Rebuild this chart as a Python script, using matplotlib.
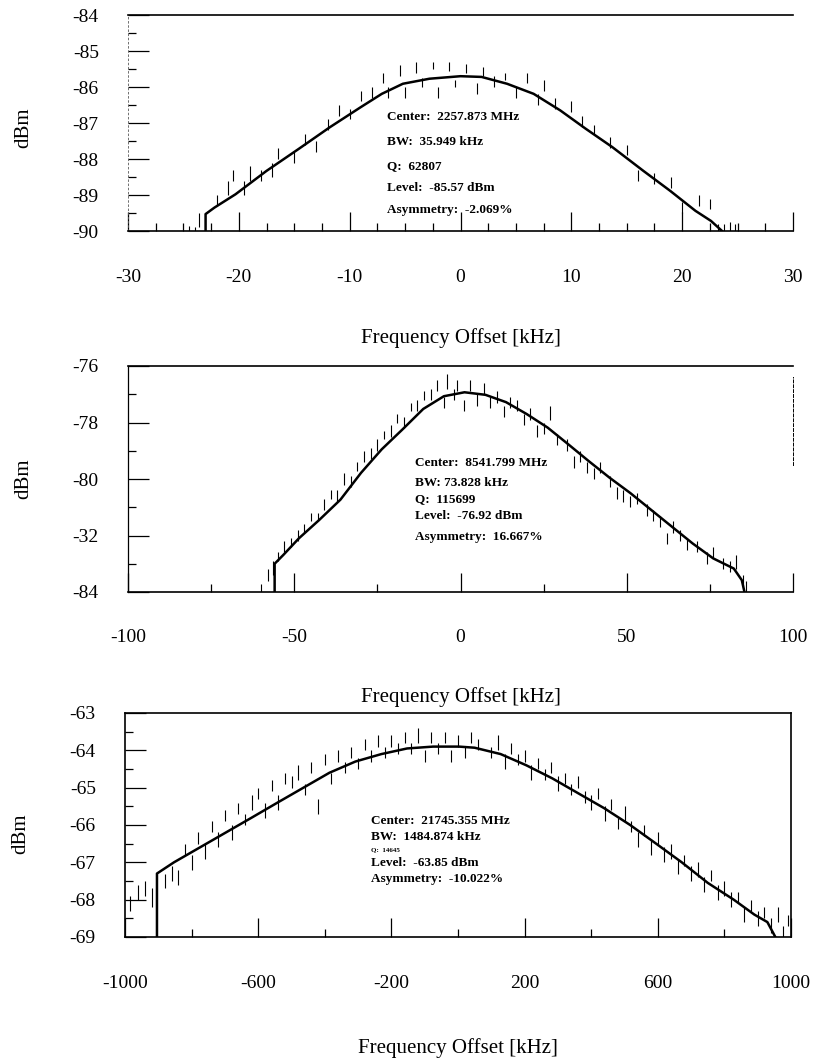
import numpy as np
import matplotlib
matplotlib.use("Agg")
import matplotlib.pyplot as plt

plt.rcParams['font.family'] = ['Liberation Serif', 'DejaVu Serif']

# ---- panel 1: 2257.873 MHz ----
fit1_x = [-23.0, -23.0, -22.2, -20.3, -17.5, -14.6, -11.8, -9.0, -7.1, -5.2, -2.8, 0.0,
          1.9, 4.2, 6.6, 9.0, 11.3, 13.7, 16.5, 18.9, 21.2, 22.6, 23.6]
fit1_y = [-90.0, -89.53, -89.35, -88.98, -88.33, -87.72, -87.12, -86.56, -86.19, -85.91,
          -85.77, -85.70, -85.72, -85.91, -86.19, -86.65, -87.16, -87.67, -88.33, -88.88,
          -89.44, -89.72, -90.0]
noise1_x = [-24.5, -24.0, -23.6, -22.0, -21.0, -20.5, -19.5, -19.0, -18.0, -17.0, -16.5,
            -15.0, -14.0, -13.0, -12.0, -11.0, -10.0, -9.0, -8.0, -7.0, -6.5, -5.5, -5.0,
            -4.0, -3.5, -2.5, -2.0, -1.0, -0.5, 0.5, 1.5, 2.0, 3.0, 4.0, 5.0, 6.0, 7.0, 7.5,
            8.5, 10.0, 11.0, 12.0, 13.5, 15.0, 16.0, 17.5, 19.0, 20.0, 21.5, 22.5, 23.2,
            23.8, 24.3, 24.8]
noise1_lo = [-90.0, -90.0, -89.9, -89.3, -89.0, -88.6, -89.0, -88.6, -88.6, -88.5, -88.0,
             -88.1, -87.6, -87.8, -87.2, -86.8, -86.9, -86.4, -86.3, -85.9, -86.3, -85.7,
             -86.3, -85.6, -86.0, -85.5, -86.3, -85.55, -86.0, -85.6, -86.2, -85.7, -86.0,
             -85.8, -86.3, -85.9, -86.5, -86.1, -86.6, -86.7, -87.1, -87.3, -87.7, -87.9,
             -88.6, -88.7, -88.8, -89.5, -89.3, -89.4, -90.0, -90.0, -90.0, -90.0]
noise1_hi = [-89.85, -89.9, -89.5, -89.0, -88.6, -88.3, -88.6, -88.2, -88.3, -88.1, -87.7,
             -87.8, -87.3, -87.5, -86.9, -86.5, -86.6, -86.1, -86.0, -85.6, -86.0, -85.4,
             -86.0, -85.3, -85.75, -85.3, -86.0, -85.3, -85.8, -85.35, -85.9, -85.45, -85.7,
             -85.6, -86.0, -85.6, -86.2, -85.8, -86.3, -86.4, -86.8, -87.05, -87.4, -87.6,
             -88.3, -88.4, -88.5, -89.2, -89.0, -89.1, -89.8, -89.8, -89.75, -89.8]
ticks1_x = [-30, -20, -10, 0, 10, 20, 30]
ticks1_y = [-84, -85, -86, -87, -88, -89, -90]
text1 = ["Center:  2257.873 MHz", "BW:  35.949 kHz", "Q:  62807", "Level:  -85.57 dBm",
         "Asymmetry:  -2.069%"]

# ---- panel 2: 8541.799 MHz ----
fit2_x = [-55.9, -55.9, -53.3, -48.6, -42.4, -36.1, -29.9, -23.7, -17.4, -11.2, -5.0, 1.2,
          7.5, 13.7, 19.9, 26.2, 32.4, 38.6, 44.9, 51.1, 57.3, 63.6, 69.8, 76.0, 82.2, 84.6,
          85.4]
fit2_y = [-84.0, -83.0, -82.69, -82.10, -81.44, -80.73, -79.78, -78.95, -78.24, -77.52,
          -77.07, -76.93, -77.02, -77.28, -77.70, -78.18, -78.77, -79.37, -79.96, -80.50,
          -81.09, -81.69, -82.28, -82.81, -83.17, -83.58, -84.0]
noise2_x = [-60, -58, -56.5, -55, -53, -51, -49, -47, -45, -43, -41, -39, -37, -35, -33, -31,
            -29, -27, -25, -23, -21, -19, -17, -15, -13, -11, -9, -7, -5, -4, -2, -1, 1, 3,
            5, 7, 9, 11, 13, 15, 17, 19, 21, 23, 25, 27, 29, 32, 34, 36, 38, 40, 42, 45, 47,
            49, 51, 53, 56, 58, 60, 62, 64, 66, 68, 71, 74, 76, 79, 81, 83, 85, 86]
noise2_lo = [-84.0, -83.6, -83.4, -82.9, -82.6, -82.4, -82.2, -81.9, -81.5, -81.5, -81.1,
             -80.7, -80.8, -80.2, -80.3, -79.7, -79.4, -79.3, -79.0, -78.6, -78.5, -78.0,
             -78.2, -77.6, -77.6, -77.2, -77.2, -76.9, -77.5, -76.8, -77.2, -76.9, -77.6,
             -76.9, -77.4, -77.0, -77.5, -77.3, -77.8, -77.5, -77.6, -78.1, -77.9, -78.5,
             -78.4, -77.9, -78.8, -79.0, -79.6, -79.4, -79.8, -80.0, -79.8, -80.3, -80.7,
             -80.8, -81.0, -80.9, -81.3, -81.5, -81.7, -82.3, -81.9, -82.2, -82.5, -82.6,
             -83.0, -82.8, -83.2, -83.3, -83.2, -83.8, -84.0]
noise2_hi = [-83.7, -83.2, -82.9, -82.6, -82.2, -82.1, -81.8, -81.6, -81.2, -81.2, -80.7,
             -80.4, -80.4, -79.8, -79.9, -79.4, -79.0, -78.9, -78.6, -78.3, -78.1, -77.7,
             -77.8, -77.3, -77.2, -76.9, -76.8, -76.5, -77.1, -76.3, -76.8, -76.5, -77.2,
             -76.5, -77.0, -76.6, -77.1, -76.9, -77.4, -77.1, -77.2, -77.7, -77.5, -78.1,
             -78.0, -77.4, -78.4, -78.6, -79.2, -79.0, -79.4, -79.6, -79.4, -79.9, -80.3,
             -80.4, -80.6, -80.5, -80.9, -81.1, -81.3, -81.9, -81.5, -81.8, -82.1, -82.2,
             -82.6, -82.4, -82.8, -82.9, -82.7, -83.4, -83.6]
ticks2_x = [-100, -50, 0, 50, 100]
ticks2_y = [-76, -78, -80, -82, -84]
ticklabels2_y = ["-76", "-78", "-80", "-32", "-84"]
text2 = ["Center:  8541.799 MHz", "BW: 73.828 kHz", "Q:  115699", "Level:  -76.92 dBm",
         "Asymmetry:  16.667%"]

# ---- panel 3: 21745.355 MHz ----
fit3_x = [-904, -904, -853, -775, -697, -619, -542, -464, -386, -308, -230, -153, -75, 3,
          50, 128, 205, 283, 361, 439, 517, 595, 672, 750, 828, 890, 929, 953]
fit3_y = [-69.0, -67.3, -67.0, -66.6, -66.2, -65.8, -65.4, -65.0, -64.6, -64.3, -64.1,
          -63.95, -63.9, -63.9, -63.93, -64.1, -64.4, -64.75, -65.15, -65.55, -66.0, -66.5,
          -67.0, -67.55, -68.0, -68.4, -68.6, -69.0]
noise3_x = [-985, -960, -940, -920, -880, -860, -840, -820, -800, -780, -760, -740, -720,
            -700, -680, -660, -640, -620, -600, -580, -560, -540, -520, -500, -480, -460,
            -440, -420, -400, -380, -360, -340, -320, -300, -280, -260, -240, -220, -200,
            -180, -160, -140, -120, -100, -80, -60, -40, -20, 0, 20, 40, 60, 100, 120, 140,
            160, 180, 200, 220, 240, 260, 280, 300, 320, 340, 360, 380, 400, 420, 440, 460,
            480, 500, 520, 540, 560, 580, 600, 620, 640, 660, 680, 700, 720, 740, 760, 780,
            800, 820, 840, 860, 880, 900, 920, 940, 960, 975, 990]
noise3_lo = [-68.3, -68.0, -67.9, -68.2, -67.7, -67.5, -67.6, -66.8, -67.2, -66.5, -66.9,
             -66.2, -66.6, -65.9, -66.4, -65.7, -66.0, -65.6, -65.3, -65.8, -65.1, -65.6,
             -64.9, -65.0, -64.8, -65.2, -64.6, -65.7, -64.4, -64.9, -64.3, -64.6, -64.2,
             -64.5, -64.0, -64.3, -63.9, -64.2, -63.9, -64.1, -63.8, -64.1, -63.8, -64.3,
             -63.8, -64.1, -63.8, -64.3, -63.9, -64.2, -63.8, -64.0, -64.2, -64.0, -64.5,
             -64.1, -64.4, -64.3, -64.8, -64.5, -64.8, -64.6, -65.1, -64.9, -65.2, -65.0,
             -65.4, -65.6, -65.3, -65.9, -65.6, -66.1, -65.9, -66.2, -66.6, -66.3, -66.8,
             -66.5, -67.0, -66.9, -67.3, -67.1, -67.5, -67.4, -67.8, -67.5, -68.0, -67.9,
             -68.2, -68.1, -68.6, -68.3, -68.7, -68.5, -68.9, -68.6, -69.0, -68.7]
noise3_hi = [-67.9, -67.6, -67.5, -67.7, -67.3, -67.1, -67.2, -66.5, -66.8, -66.2, -66.5,
             -65.9, -66.2, -65.6, -66.0, -65.4, -65.7, -65.2, -65.0, -65.4, -64.8, -65.2,
             -64.6, -64.7, -64.4, -64.9, -64.3, -65.3, -64.1, -64.6, -64.0, -64.3, -63.9,
             -64.2, -63.7, -64.0, -63.6, -63.9, -63.6, -63.8, -63.5, -63.8, -63.4, -64.0,
             -63.5, -63.8, -63.5, -64.0, -63.6, -63.9, -63.5, -63.7, -63.9, -63.6, -64.1,
             -63.8, -64.1, -64.0, -64.4, -64.2, -64.5, -64.3, -64.7, -64.6, -64.9, -64.7,
             -65.1, -65.2, -65.0, -65.5, -65.3, -65.8, -65.5, -65.9, -66.2, -66.0, -66.4,
             -66.2, -66.6, -66.5, -66.9, -66.8, -67.1, -67.0, -67.4, -67.2, -67.6, -67.5,
             -67.8, -67.8, -68.2, -68.0, -68.3, -68.2, -68.5, -68.2, -68.7, -68.4]
ticks3_x = [-1000, -600, -200, 200, 600, 1000]
ticks3_y = [-63, -64, -65, -66, -67, -68, -69]
text3 = ["Center:  21745.355 MHz", "BW:  1484.874 kHz", "Q:  14645", "Level:  -63.85 dBm",
         "Asymmetry:  -10.022%"]

W, H = 815, 1059
fig = plt.figure(figsize=(W / 100, H / 100), dpi=100)


def make_axes(top, bottom, left=128, right=793):
    return fig.add_axes([left / W, 1 - bottom / H, (right - left) / W, (bottom - top) / H])


panels = [
    dict(ax=make_axes(15, 231), fx=fit1_x, fy=fit1_y, nx=noise1_x, nlo=noise1_lo, nhi=noise1_hi,
         xt=ticks1_x, xminor=np.arange(-30, 30.1, 2.5), yt=ticks1_y, ytl=[str(v) for v in ticks1_y],
         yminor=np.arange(-90, -83.9, 0.5), xlim=(-30, 30), ylim=(-90, -84),
         text=text1, tx=-6.6, ty=[-86.84, -87.53, -88.19, -88.81, -89.42], qsize=9.5,
         xlab=-0.45, ylab_y=0.48),
    dict(ax=make_axes(366, 592), fx=fit2_x, fy=fit2_y, nx=noise2_x, nlo=noise2_lo, nhi=noise2_hi,
         xt=ticks2_x, xminor=np.arange(-100, 101, 25), yt=ticks2_y, ytl=ticklabels2_y,
         yminor=np.arange(-84, -75.9, 1), xlim=(-100, 100), ylim=(-84, -76),
         text=text2, tx=-13.6, ty=[-79.42, -80.13, -80.73, -81.32, -82.05], qsize=9.5,
         xlab=-0.42, ylab_y=0.5),
    dict(ax=make_axes(713, 937, left=125, right=791), fx=fit3_x, fy=fit3_y, nx=noise3_x,
         nlo=noise3_lo, nhi=noise3_hi, xt=ticks3_x, xminor=np.arange(-1000, 1001, 200),
         yt=ticks3_y, ytl=[str(v) for v in ticks3_y], yminor=np.arange(-69, -62.9, 0.5),
         xlim=(-1000, 1000), ylim=(-69, -63),
         text=text3, tx=-261, ty=[-65.9, -66.33, -66.67, -67.03, -67.44], qsize=5,
         xlab=-0.45, ylab_y=0.46),
]

for i, p in enumerate(panels):
    ax = p['ax']
    ax.vlines(p['nx'], p['nlo'], p['nhi'], color='black', lw=0.8)
    ax.plot(p['fx'], p['fy'], color='black', lw=1.8)
    ax.set_xlim(*p['xlim'])
    ax.set_ylim(*p['ylim'])

    ax.set_xticks(p['xt'])
    ax.set_xticklabels([str(v) for v in p['xt']])
    ax.set_xticks(p['xminor'], minor=True)
    ax.set_yticks(p['yt'])
    ax.set_yticklabels(p['ytl'])
    ax.set_yticks(p['yminor'], minor=True)
    ax.tick_params(axis='both', which='both', direction='in', color='black', width=0.9)
    ax.tick_params(axis='x', which='major', length=14, pad=27, labelsize=14)
    ax.tick_params(axis='x', which='minor', length=6)
    ax.tick_params(axis='y', which='major', length=15, pad=21, labelsize=14)
    ax.tick_params(axis='y', which='minor', length=6)

    for s in ax.spines.values():
        s.set_linewidth(1.2)
    if i == 0:
        ax.spines['right'].set_visible(False)
        ax.spines['left'].set_linestyle((0, (2, 3)))
        ax.spines['left'].set_linewidth(0.6)
        ax.spines['left'].set_color('0.35')
    elif i == 1:
        ax.spines['right'].set_bounds(-79.5, -76.4)
        ax.spines['right'].set_linestyle((0, (3, 2)))
        ax.spines['right'].set_linewidth(0.7)
        ax.spines['left'].set_linewidth(0.9)

    for j, (t, y) in enumerate(zip(p['text'], p['ty'])):
        ax.text(p['tx'], y, t, fontsize=p['qsize'] if j == 2 else 9.5, fontweight='bold',
                va='center', ha='left')

    ax.set_xlabel("Frequency Offset [kHz]", fontsize=15)
    ax.xaxis.set_label_coords(0.5, p['xlab'])
    ax.set_ylabel("dBm", fontsize=15)
    ax.yaxis.set_label_coords(-0.143, p['ylab_y'])

fig.savefig("out.png", dpi=100)
